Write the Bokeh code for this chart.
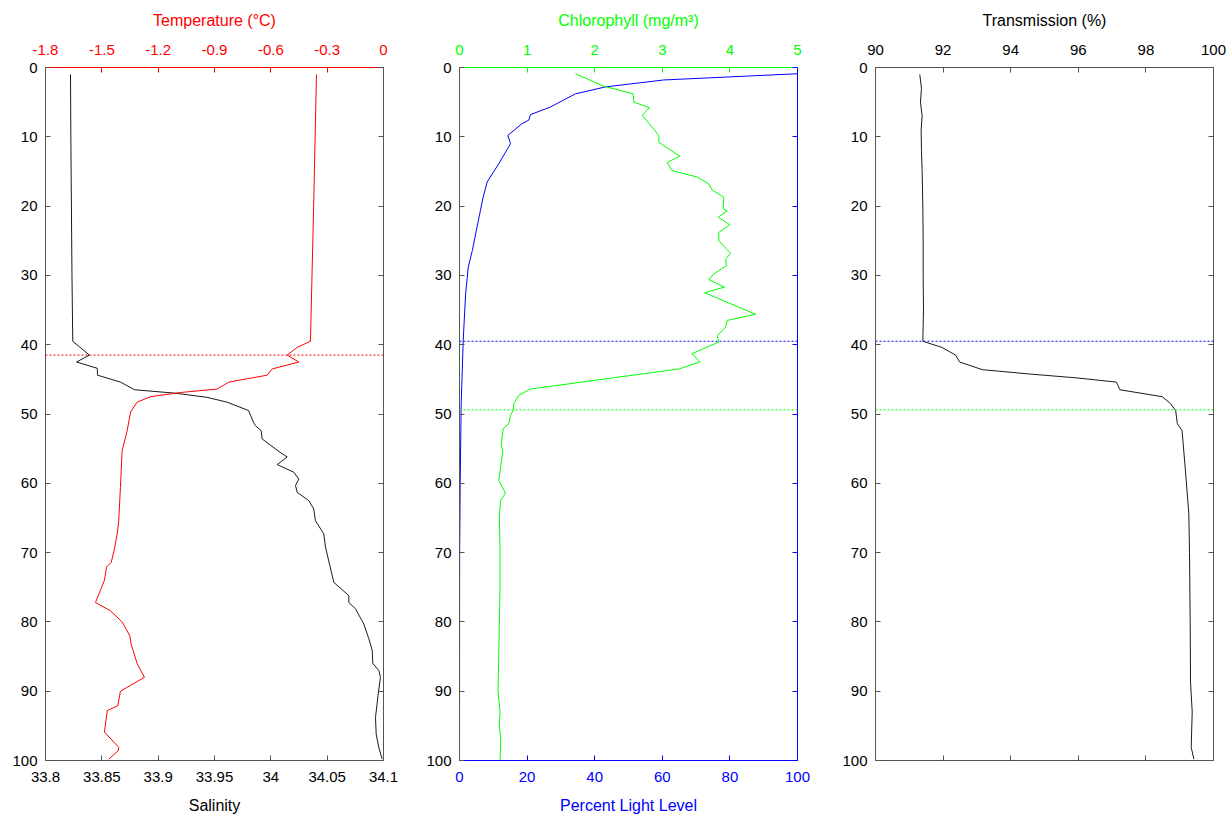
from bokeh.plotting import figure
from bokeh.models import Range1d, LinearAxis, FixedTicker, CustomJSTickFormatter, Span
from bokeh.layouts import row
from bokeh.embed import file_html
from bokeh.resources import INLINE

# ---------------- data ----------------
depth_ticks = [0, 10, 20, 30, 40, 50, 60, 70, 80, 90, 100]
salinity_ticks = [33.8, 33.85, 33.9, 33.95, 34.0, 34.05, 34.1]
temperature_ticks = [-1.8, -1.5, -1.2, -0.9, -0.6, -0.3, 0.0]
light_ticks = [0, 20, 40, 60, 80, 100]
chl_ticks = [0, 1, 2, 3, 4, 5]
trans_ticks = [90, 92, 94, 96, 98, 100]

salinity_depth = [1, 10, 20, 30, 39.5, 41.5, 42.5, 43.4, 44.4, 45.4, 46.5, 47.0, 47.6, 48.3, 49.5,
                  51.2, 51.7, 52.4, 53.6, 54.5, 55.5, 56.2, 57.3, 58.4, 59.4, 60.3, 61.3, 62.5, 63.7,
                  65.4, 67.3, 69.2, 74.3, 76.2, 77.2, 78.1, 80.3, 82.4, 84.1, 86.0, 87.0, 88.0, 90.4,
                  93.8, 96.2, 98.1, 99.8]
salinity = [33.8222, 33.8225, 33.823, 33.8235, 33.8242, 33.839, 33.8275, 33.8459, 33.8462, 33.8666,
            33.879, 33.9154, 33.9435, 33.9613, 33.9802, 33.9846, 33.9864, 33.9914, 33.9923, 33.9997,
            34.008, 34.0145, 34.0056, 34.0204, 34.0248, 34.0219, 34.0234, 34.0337, 34.0381, 34.0396,
            34.047, 34.0485, 34.0559, 34.0692, 34.0692, 34.0751, 34.0825, 34.0869, 34.09, 34.0905,
            34.0958, 34.0973, 34.0953, 34.0929, 34.0935, 34.0958, 34.0988]

temp_depth = [1, 20, 39.5, 40.4, 41.5, 42.5, 43.5, 44.4, 45.4, 46.4, 46.9, 47.5, 48.3, 49.7, 52.4,
              55.3, 60.6, 65.4, 67.3, 69.5, 71.4, 72.1, 74.0, 77.2, 78.4, 80.0, 82.0, 83.2, 86.0,
              88.0, 90.0, 92.1, 92.8, 95.9, 98.1, 98.6, 99.8]
temperature = [-0.357, -0.372, -0.389, -0.460, -0.513, -0.451, -0.593, -0.620, -0.824, -0.886,
               -1.081, -1.241, -1.312, -1.347, -1.365, -1.392, -1.401, -1.410, -1.418, -1.433,
               -1.450, -1.475, -1.486, -1.534, -1.454, -1.392, -1.351, -1.344, -1.312, -1.273,
               -1.401, -1.415, -1.471, -1.486, -1.410, -1.413, -1.463]

light_depth = [0.9, 1.8, 2.8, 3.8, 5.7, 6.8, 7.6, 8.1, 9.8, 11.0, 13.9, 16.5, 18.7, 20.6, 23.0,
               26.4, 28.8, 32.7, 39.4, 48.5, 60, 70, 80, 100]
light = [100, 60.4, 43.2, 34.3, 26.9, 21.0, 20.5, 18.5, 14.3, 15.1, 11.6, 8.2, 7.0, 6.2, 5.2,
         3.8, 2.6, 1.8, 1.1, 0.5, 0.2, 0.05, 0.02, 0.0]

chl_depth = [0.9, 2.7, 3.8, 5.0, 5.8, 6.9, 9.8, 10.8, 12.8, 13.7, 14.9, 15.8, 16.8, 17.7, 18.7,
             20.4, 20.7, 21.6, 22.7, 23.8, 25.0, 26.8, 27.7, 28.6, 29.8, 30.6, 31.7, 32.5, 35.6,
             36.5, 37.5, 38.7, 39.6, 41.3, 42.5, 43.5, 46.4, 47.3, 48.5, 49.5, 50.2, 51.4, 52.1,
             54.5, 55.3, 59.6, 61.4, 62.5, 65, 70, 75, 80, 85, 90, 93, 95, 97, 100]
chlorophyll = [1.716, 2.135, 2.569, 2.579, 2.811, 2.702, 2.949, 2.949, 3.259, 3.072, 3.146, 3.516,
               3.688, 3.738, 3.910, 3.900, 3.960, 3.827, 3.999, 3.836, 3.836, 4.009, 3.935, 3.950,
               3.762, 3.688, 3.920, 3.624, 4.379, 3.960, 3.935, 3.812, 3.836, 3.442, 3.555, 3.244,
               1.050, 0.877, 0.803, 0.794, 0.754, 0.730, 0.646, 0.617, 0.641, 0.582, 0.680, 0.607,
               0.59, 0.60, 0.60, 0.59, 0.58, 0.57, 0.60, 0.59, 0.61, 0.60]

trans_depth = [1, 3, 5, 7, 9, 12, 15, 20, 25, 30, 35, 39.5, 40.4, 41.5, 42.5, 43.6, 44.2, 44.8,
               45.4, 46.5, 47.5, 48.5, 49.5, 51.4, 52.4, 58.2, 64.4, 70, 80, 88.7, 93, 98.1, 99.8]
transmission = [91.31, 91.36, 91.33, 91.38, 91.35, 91.36, 91.38, 91.40, 91.41, 91.41, 91.42, 91.40,
                91.97, 92.37, 92.49, 93.16, 94.49, 95.97, 97.13, 97.23, 98.48, 98.73, 98.88, 98.93,
                99.07, 99.17, 99.27, 99.29, 99.31, 99.32, 99.37, 99.34, 99.42]

temp_mixed_depth = 41.5
light_ref_depth = 39.5
chl_ref_depth = 49.4

# ---------------- style ----------------
FONT = "Liberation Sans"
RED = "#ff0000"
GREEN = "#00ff00"
BLUE = "#0000ff"
GRAY = "#555555"
BLACK = "#1a1a1a"


def num_fmt():
    return CustomJSTickFormatter(code="return String(Math.round(tick*1000)/1000);")


def blank_fmt():
    return CustomJSTickFormatter(code="return '';")


def make_axis(ticks, color, label_color=None, labels=True, title=None, title_color=None,
              range_name="default", side="below"):
    ax = LinearAxis(x_range_name=range_name) if range_name != "default" else LinearAxis()
    ax.ticker = FixedTicker(ticks=ticks, minor_ticks=[])
    ax.formatter = num_fmt() if labels else blank_fmt()
    ax.axis_line_color = color
    ax.axis_line_width = 1
    ax.major_tick_line_color = color
    ax.major_tick_in = 5
    ax.major_tick_out = 0
    ax.minor_tick_line_color = None
    ax.major_label_text_font = FONT
    ax.major_label_text_font_size = "15px"
    ax.major_label_text_color = label_color or color
    if side == "above":
        ax.major_label_standoff = 13
    elif side == "below":
        ax.major_label_standoff = 11
    else:
        ax.major_label_standoff = 8
    if title:
        ax.axis_label = title
        ax.axis_label_text_font = FONT
        ax.axis_label_text_font_size = "16px"
        ax.axis_label_text_font_style = "normal"
        ax.axis_label_text_color = title_color or color
        ax.axis_label_standoff = 13 if side == "above" else 12
    return ax


def make_fig(xr, extra, right_border):
    p = figure(frame_width=338, frame_height=693, x_range=xr, y_range=Range1d(100, 0),
               x_axis_type=None, y_axis_type=None, output_backend="svg",
               toolbar_location=None, min_border_left=45, min_border_right=right_border,
               min_border_top=67, min_border_bottom=54, outline_line_color=None)
    if extra:
        p.extra_x_ranges = extra
    p.background_fill_color = "white"
    p.border_fill_color = "white"
    return p


def y_axes(p, left_color, right_color):
    left = make_axis(depth_ticks, left_color, label_color="black", side="left")
    right = make_axis(depth_ticks, right_color, labels=False, side="right")
    p.add_layout(left, "left")
    p.add_layout(right, "right")


# ---------------- panel 1: salinity / temperature ----------------
p1 = make_fig(Range1d(33.8, 34.1), {"temp": Range1d(-1.8, 0)}, 31)
p1.add_layout(make_axis(salinity_ticks, GRAY, label_color="black", title="Salinity",
                        title_color="black", side="below"), "below")
p1.add_layout(make_axis(temperature_ticks, RED, title="Temperature (°C)", range_name="temp",
                        side="above"), "above")
y_axes(p1, GRAY, GRAY)
p1.line(salinity, salinity_depth, line_color=BLACK, line_width=1)
p1.line(temperature, temp_depth, line_color=RED, line_width=1, x_range_name="temp")
p1.add_layout(Span(location=temp_mixed_depth, dimension="width", line_color=RED,
                   line_dash="2 2", line_width=1))

# ---------------- panel 2: light / chlorophyll ----------------
p2 = make_fig(Range1d(0, 100), {"chl": Range1d(0, 5)}, 33)
p2.add_layout(make_axis(light_ticks, BLUE, title="Percent Light Level", side="below"), "below")
p2.add_layout(make_axis(chl_ticks, GREEN, title="Chlorophyll (mg/m³)", range_name="chl",
                        side="above"), "above")
y_axes(p2, GRAY, BLUE)
p2.line(light, light_depth, line_color=BLUE, line_width=1)
p2.line(chlorophyll, chl_depth, line_color=GREEN, line_width=1, x_range_name="chl")
p2.add_layout(Span(location=light_ref_depth, dimension="width", line_color=BLUE,
                   line_dash="2 2", line_width=1))
p2.add_layout(Span(location=chl_ref_depth, dimension="width", line_color=GREEN,
                   line_dash="2 2", line_width=1))

# ---------------- panel 3: transmission ----------------
p3 = make_fig(Range1d(90, 100), None, 18)
p3.add_layout(make_axis(trans_ticks, GRAY, labels=False, side="below"), "below")
p3.add_layout(make_axis(trans_ticks, GRAY, label_color="black", title="Transmission (%)",
                        title_color="black", side="above"), "above")
y_axes(p3, GRAY, GRAY)
p3.line(transmission, trans_depth, line_color=BLACK, line_width=1)
p3.add_layout(Span(location=light_ref_depth, dimension="width", line_color=BLUE,
                   line_dash="2 2", line_width=1))
p3.add_layout(Span(location=chl_ref_depth, dimension="width", line_color=GREEN,
                   line_dash="2 2", line_width=1))

layout = row(p1, p2, p3)
open("out.html", "w").write(file_html(layout, INLINE))
